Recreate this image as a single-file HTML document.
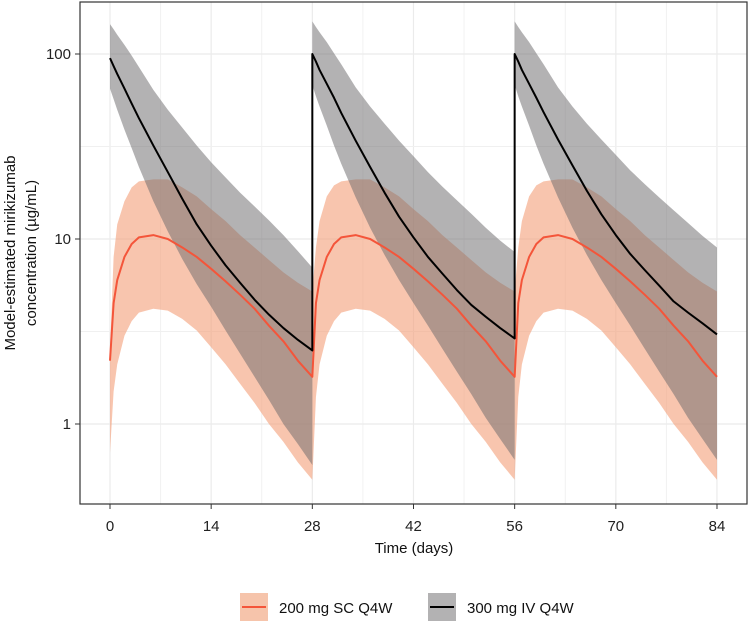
<!DOCTYPE html>
<html><head><meta charset="utf-8"><style>
body{margin:0;background:#fff}
svg{display:block;font-family:"Liberation Sans",Arial,sans-serif}
</style></head><body>
<svg id="chart" width="749" height="623" viewBox="0 0 749 623">
<g id="grid"></g>
<g id="bands"></g>
<g id="lines"></g>
<rect x="80" y="2" width="667" height="502" fill="none" stroke="#333" stroke-width="1.2"/>
<g id="axes" font-size="15" fill="#222"></g>
<text x="15" y="253" transform="rotate(-90 15 253)" text-anchor="middle" font-size="15" fill="#111">Model-estimated mirikizumab</text>
<text x="36" y="253" transform="rotate(-90 36 253)" text-anchor="middle" font-size="15" fill="#111">concentration (µg/mL)</text>
<text x="414" y="553" text-anchor="middle" font-size="15" fill="#111">Time (days)</text>
<g>
<g>
<rect x="240" y="593" width="28" height="28" fill="#f6c4ab"/>
<line x1="242" y1="607" x2="266" y2="607" stroke="#f4553a" stroke-width="2"/>
<text x="279" y="613" font-size="15" fill="#111">200 mg SC Q4W</text></g>
<g>
<rect x="428" y="593" width="28" height="28" fill="#b3b2b3"/>
<line x1="430" y1="607" x2="454" y2="607" stroke="#000" stroke-width="2"/>
<text x="467" y="613" font-size="15" fill="#111">300 mg IV Q4W</text></g>
</g>
</svg>
<script>
const cycleDays=[0,0.5,1,2,3,4,6,8,10,12,14,16,18,20,22,24,26,28];
const cycleStarts=[0,28,56];
const xTicks=[0,14,28,42,56,70,84];
const yTicks=[1,10,100];
const ivMean=[[95,86,78,65,54,45,32,23,16.5,12,9.2,7.2,5.8,4.7,3.9,3.3,2.85,2.5],[100,91,82,69,58,48,34,24.5,17.8,13.2,10.2,8,6.5,5.3,4.4,3.8,3.3,2.9],[100,91,82,69,58,48.5,34.5,25,18.2,13.6,10.5,8.3,6.8,5.6,4.6,4,3.5,3.05]];
const ivUpper=[[145,136,127,112,98,85,64,50,40,32,26,21.5,17.8,15,12.6,10.5,8.6,7],[150,140,131,116,101,88,66,52,42,34,28,23,19.2,16.2,13.7,11.5,9.8,8.5],[150,140,131,116,101,88,66,52,42,34.5,28.5,23.5,19.8,16.8,14.3,12.2,10.4,9]];
const ivLower=[[65,57,50,39,31,24.5,16,11,7.8,5.7,4.3,3.2,2.4,1.8,1.35,1.0,0.78,0.6],[68,59,52,41,32,25.5,16.8,11.5,8.2,6,4.5,3.4,2.55,1.92,1.45,1.08,0.83,0.64],[68,59,52,41,32,25.5,16.8,11.5,8.2,6,4.5,3.4,2.55,1.92,1.45,1.08,0.83,0.64]];
const scMean=[[2.2,4.5,6,8,9.4,10.2,10.5,10,9,8,6.9,5.9,5,4.2,3.4,2.8,2.2,1.8],[1.8,4.5,6,8,9.4,10.2,10.5,10,9,8,6.9,5.9,5,4.2,3.4,2.8,2.2,1.8],[1.8,4.5,6,8,9.4,10.2,10.5,10,9,8,6.9,5.9,5,4.2,3.4,2.8,2.2,1.8]];
const scUpper=[[2.5,8,12,16,19,20.5,21,21,19,17,14.5,12.5,10.5,9,7.7,6.6,5.8,5.2],[5.2,9,12.5,17,19.5,20.5,21,21,19,17,14.5,12.5,10.5,9,7.7,6.6,5.8,5.2],[5.2,9,12.5,17,19.5,20.5,21,21,19,17,14.5,12.5,10.5,9,7.7,6.6,5.8,5.2]];
const scLower=[[0.7,1.5,2.1,3,3.6,4,4.2,4.1,3.7,3.2,2.6,2.1,1.65,1.3,1.0,0.8,0.62,0.5],[0.5,1.4,2.1,3,3.6,4,4.2,4.1,3.7,3.2,2.6,2.1,1.65,1.3,1.0,0.8,0.62,0.5],[0.5,1.4,2.1,3,3.6,4,4.2,4.1,3.7,3.2,2.6,2.1,1.65,1.3,1.0,0.8,0.62,0.5]];

const NS='http://www.w3.org/2000/svg';
const X=d=>110+d*7.226;
const Y=v=>424-Math.log10(v)*185;
function mk(tag,attrs,parent){const e=document.createElementNS(NS,tag);for(const k in attrs)e.setAttribute(k,attrs[k]);parent.appendChild(e);return e;}
const grid=document.getElementById('grid'),bands=document.getElementById('bands'),lines=document.getElementById('lines'),axes=document.getElementById('axes');
for(let i=0;i<xTicks.length;i++){
 const gx=mk('line',{x1:X(xTicks[i]),x2:X(xTicks[i]),y1:2,y2:504,stroke:'#ebebeb','stroke-width':1.2},grid);
 
 
 if(i<xTicks.length-1){const m=(xTicks[i]+xTicks[i+1])/2;
  const gm=mk('line',{x1:X(m),x2:X(m),y1:2,y2:504,stroke:'#f0f0f0','stroke-width':0.9},grid);
  
  }
}
yTicks.forEach(v=>{
 const gy=mk('line',{x1:80,x2:747,y1:Y(v),y2:Y(v),stroke:'#ebebeb','stroke-width':1.2},grid);
 
 
 const gm=mk('line',{x1:80,x2:747,y1:Y(v*Math.sqrt(10)),y2:Y(v*Math.sqrt(10)),stroke:'#f0f0f0','stroke-width':0.9},grid);
 
 
 const tk=mk('line',{x1:75,x2:80,y1:Y(v),y2:Y(v),stroke:'#333'},axes);
 
 
 const t=mk('text',{x:71,y:Y(v)+5,'text-anchor':'end'},axes);t.textContent=v;
 
 
});
xTicks.forEach(d=>{
 const tk=mk('line',{x1:X(d),x2:X(d),y1:504,y2:509,stroke:'#333'},axes);
 
 
 const t=mk('text',{x:X(d),y:531,'text-anchor':'middle'},axes);t.textContent=d;
 
 
});
function band(up,lo,fill,op,name){
 for(let c=0;c<cycleStarts.length;c++){
  let pts=cycleDays.map((d,i)=>X(cycleStarts[c]+d)+','+Y(up[c][i]));
  for(let i=cycleDays.length-1;i>=0;i--)pts.push(X(cycleStarts[c]+cycleDays[i])+','+Y(lo[c][i]));
  const p=mk('polygon',{points:pts.join(' '),fill:fill,'fill-opacity':op},bands);
  
  
 }
}
function line(mean,stroke,name){
 let pts=[];
 for(let c=0;c<cycleStarts.length;c++)cycleDays.forEach((d,i)=>pts.push(X(cycleStarts[c]+d)+','+Y(mean[c][i])));
 const p=mk('polyline',{points:pts.join(' '),fill:'none',stroke:stroke,'stroke-width':2,'stroke-linejoin':'round'},lines);
 
 
}
band(scUpper,scLower,'#f3a17c',0.62,'sc-ci-band');
band(ivUpper,ivLower,'#6e6c6e',0.52,'iv-ci-band');
line(scMean,'#f4553a','sc-mean-line');
line(ivMean,'#000','iv-mean-line');
</script>
</body></html>
